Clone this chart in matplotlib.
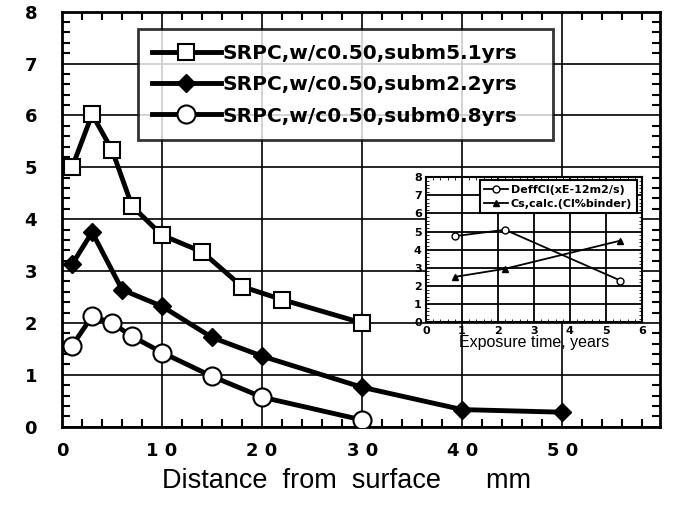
import matplotlib.pyplot as plt
from matplotlib.ticker import MultipleLocator

plt.rcParams['font.family'] = ['Liberation Sans', 'DejaVu Sans']

# main chart: chloride profiles
x_5yr = [1, 3, 5, 7, 10, 14, 18, 22, 30]
y_5yr = [5.0, 6.02, 5.33, 4.25, 3.69, 3.37, 2.7, 2.45, 2.0]
x_2yr = [1, 3, 6, 10, 15, 20, 30, 40, 50]
y_2yr = [3.13, 3.75, 2.64, 2.32, 1.72, 1.36, 0.76, 0.33, 0.28]
x_08yr = [1, 3, 5, 7, 10, 15, 20, 30]
y_08yr = [1.56, 2.13, 2.0, 1.74, 1.43, 0.97, 0.57, 0.13]
labels = ["SRPC,w/c0.50,subm5.1yrs", "SRPC,w/c0.50,subm2.2yrs",
          "SRPC,w/c0.50,subm0.8yrs"]
xticks = [0, 10, 20, 30, 40, 50]
xticklabels = ["0", "1 0", "2 0", "3 0", "4 0", "5 0"]

# inset: exposure time
t_years = [0.8, 2.2, 5.4]
deff = [4.75, 5.1, 2.3]
cs_calc = [2.5, 2.95, 4.5]
inset_labels = ["DeffCl(xE-12m2/s)", "Cs,calc.(Cl%binder)"]

bold_font = {'family': 'DejaVu Sans', 'weight': 'bold'}

fig = plt.figure(figsize=(6.75, 5.05), dpi=100)
ax = fig.add_axes([0.092, 0.155, 0.886, 0.822])

ax.plot(x_5yr, y_5yr, '-s', color='black', lw=3.5, ms=12, mfc='white',
        mec='black', mew=1.5, label=labels[0], zorder=3)
ax.plot(x_2yr, y_2yr, '-D', color='black', lw=3.5, ms=9, mfc='black',
        mec='black', label=labels[1], zorder=3)
ax.plot(x_08yr, y_08yr, '-o', color='black', lw=3.5, ms=13, mfc='white',
        mec='black', mew=1.5, label=labels[2], zorder=3)

ax.set_xlim(0, 59.8)
ax.set_ylim(0, 8)
ax.set_xticks(xticks)
ax.set_xticklabels(xticklabels)
ax.xaxis.set_minor_locator(MultipleLocator(2))
ax.yaxis.set_minor_locator(MultipleLocator(0.2))
ax.grid(True, which='major', color='black', lw=1.2)
ax.tick_params(which='both', direction='in', top=True, right=True, width=1.5)
ax.tick_params(which='major', length=0)
ax.tick_params(which='minor', length=6)
ax.tick_params(axis='x', pad=11)
ax.tick_params(axis='y', pad=18)
for t in ax.get_xticklabels() + ax.get_yticklabels():
    t.set_fontproperties({**bold_font, 'size': 13})
for s in ax.spines.values():
    s.set_linewidth(2)
ax.set_xlabel("Distance  from  surface      mm", fontsize=19.5, labelpad=6)
ax.xaxis.label.set_x(0.475)

leg = ax.legend(loc='upper left', bbox_to_anchor=(0.127, 0.0, 0.694, 0.957),
                mode='expand', borderaxespad=0, prop={**bold_font, 'size': 14.5},
                handlelength=3.4, frameon=True, fancybox=False,
                edgecolor='black', borderpad=0.7, labelspacing=0.62,
                handletextpad=0.1)
leg.get_frame().set_linewidth(2)

# inset axes
ax2 = fig.add_axes([0.631, 0.362, 0.32, 0.287])
ax2.plot(t_years, deff, '-o', color='black', lw=1.3, ms=5, mfc='white',
         mec='black', label=inset_labels[0])
ax2.plot(t_years, cs_calc, '-^', color='black', lw=1.3, ms=5, mfc='black',
         label=inset_labels[1])
ax2.set_xlim(0, 6)
ax2.set_ylim(0, 8)
ax2.set_xticks(range(7))
ax2.set_yticks(range(9))
ax2.xaxis.set_minor_locator(MultipleLocator(0.2))
ax2.yaxis.set_minor_locator(MultipleLocator(0.2))
ax2.grid(True, which='major', color='black', lw=1.3)
ax2.tick_params(which='both', direction='in', top=True, right=True, pad=3)
ax2.tick_params(which='major', length=0)
ax2.tick_params(which='minor', length=2)
for t in ax2.get_xticklabels() + ax2.get_yticklabels():
    t.set_fontproperties({**bold_font, 'size': 8})
for s in ax2.spines.values():
    s.set_linewidth(1.5)
ax2.set_xlabel("Exposure time, years", fontsize=11.5, labelpad=-1)
leg2 = ax2.legend(loc='upper right', bbox_to_anchor=(0.975, 0.98),
                  borderaxespad=0, prop={**bold_font, 'size': 8},
                  handlelength=2.2, frameon=True, fancybox=False,
                  edgecolor='black', borderpad=0.4, labelspacing=0.4,
                  handletextpad=0.2)
leg2.get_frame().set_linewidth(1.5)
leg2.get_frame().set_alpha(1)

fig.savefig("out.png", dpi=100)
